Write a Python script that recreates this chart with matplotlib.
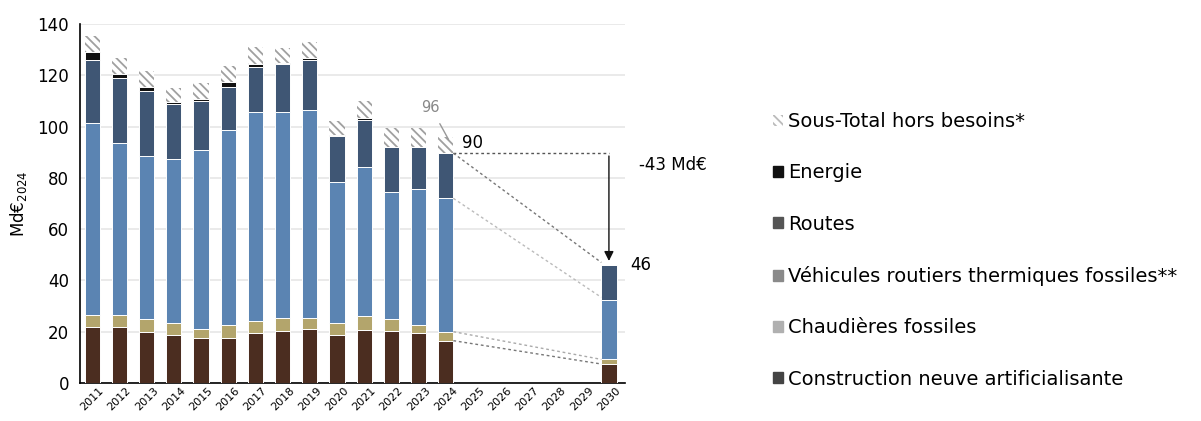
import numpy as np
import matplotlib
matplotlib.use("Agg")
import matplotlib.pyplot as plt
from matplotlib.patches import Patch

# Data (Md€ 2024)
years = [str(y) for y in range(2011, 2031)]
bar_years = ["2011", "2012", "2013", "2014", "2015", "2016", "2017", "2018", "2019",
             "2020", "2021", "2022", "2023", "2024", "2030"]
construction = [22.0, 22.0, 20.0, 18.7, 17.5, 17.5, 19.5, 20.3, 21.0, 18.7, 20.7, 20.3, 19.5, 16.5, 7.4]
chaudieres = [4.5, 4.5, 5.0, 4.5, 3.5, 5.0, 4.5, 5.0, 4.5, 4.5, 5.5, 4.5, 3.0, 3.5, 1.8]
vehicules = [75.0, 67.0, 63.5, 64.0, 70.0, 76.0, 81.7, 80.4, 81.0, 55.3, 58.2, 49.8, 53.1, 52.0, 23.2]
routes = [24.5, 25.4, 25.5, 21.5, 19.0, 16.8, 17.6, 18.7, 19.5, 17.8, 18.2, 17.4, 16.4, 17.5, 13.6]
energie = [3.0, 1.5, 1.4, 0.8, 0.8, 1.9, 1.1, 0.4, 0.7, 0.3, 0.6, 0.2, 0.2, 0.1, 0.0]
sous_total = [6.5, 6.2, 6.3, 5.4, 6.2, 6.6, 6.6, 5.9, 6.3, 5.4, 6.8, 7.3, 7.3, 6.4, 0.0]

labels = ["Construction neuve artificialisante", "Chaudières fossiles",
          "Véhicules routiers thermiques fossiles**", "Routes", "Energie",
          "Sous-Total hors besoins*"]

plt.rcParams['font.family'] = ['DejaVu Sans']
plt.rcParams['hatch.linewidth'] = 1.3

fig = plt.figure(figsize=(12.01, 4.21), dpi=100)
ax = fig.add_axes([0.0666, 0.0903, 0.454, 0.8527])

x = np.array([years.index(y) for y in bar_years])
w = 0.56
series = [construction, chaudieres, vehicules, routes, energie]
colors = ['#4b2d20', '#b3a56c', '#5b84b2', '#3f5674', '#111111']
bottom = np.zeros(len(x))
for vals, c in zip(series, colors):
    v = np.array(vals)
    ax.bar(x, v, w, bottom=bottom, color=c, edgecolor='white', linewidth=0.7, zorder=3)
    bottom += v
ax.bar(x, sous_total, w, bottom=bottom, facecolor='white', edgecolor='#a0a0a0',
       hatch='\\\\\\\\', linewidth=0, zorder=3)

ax.set_xlim(-0.45, 19.6)
ax.set_ylim(0, 140)
ax.set_yticks(range(0, 141, 20))
ax.set_xticks(range(len(years)))
ax.set_xticklabels(years, rotation=45, fontsize=8)
ax.tick_params(axis='y', labelsize=12, length=0, pad=8)
ax.tick_params(axis='x', length=0, pad=2)
ax.yaxis.grid(True, color='#e6e6e6', linewidth=1.2, zorder=0)
ax.spines['top'].set_visible(False)
ax.spines['right'].set_visible(False)
ax.spines['left'].set_linewidth(1.2)
ax.spines['bottom'].set_linewidth(1.2)
ax.set_ylabel('Md€$_{2024}$', fontsize=12, labelpad=6)

# annotations 2024 -> 2030
i24 = list(bar_years).index("2024")
x24 = x[i24]
x30 = x[-1]
top24 = sum(s[i24] for s in series)
top30 = sum(s[-1] for s in series)
veh24 = construction[i24] + chaudieres[i24] + vehicules[i24]
veh30 = construction[-1] + chaudieres[-1] + vehicules[-1]
ch24 = construction[i24] + chaudieres[i24]
ch30 = construction[-1] + chaudieres[-1]

ax.plot([x24 + w / 2, x30], [top24, top24], ls=(0, (2, 2)), color='#555555', lw=1, zorder=4)
ax.annotate('', xy=(x30, top30 + 0.5), xytext=(x30, top24),
            arrowprops=dict(arrowstyle='-|>', color='#111111', lw=1, mutation_scale=14), zorder=5)
ax.plot([x24 + w / 2, x30 - w / 2], [top24, top30 + 1], ls=(0, (2, 2)), color='#777777', lw=1, zorder=4)
ax.plot([x24 + w / 2, x30 - w / 2], [veh24, veh30 + 1], ls=(0, (2, 2)), color='#bbbbbb', lw=1, zorder=4)
ax.plot([x24 + w / 2, x30 - w / 2], [ch24, ch30], ls=(0, (2, 2)), color='#aaaaaa', lw=1, zorder=4)
ax.plot([x24 + w / 2, x30 - w / 2], [construction[i24], construction[-1]], ls=(0, (2, 2)),
        color='#777777', lw=1, zorder=4)

ax.text(x24 + 0.6, 93.5, '90', fontsize=12, va='center')
ax.annotate('96', xy=(x24 + 0.1, 95), xytext=(x24 - 0.55, 107.5), fontsize=10.5, color='#888888',
            ha='center', va='center', zorder=6,
            arrowprops=dict(arrowstyle='-', color='#999999', lw=1, shrinkA=5, shrinkB=0))
ax.text(x30 + 1.1, 85, '-43 Md€', fontsize=12, va='center', clip_on=False)
ax.text(x30 + 0.8, 46, '46', fontsize=12, va='center', clip_on=False)

# legend (grey markers as in the source)
handles = [Patch(facecolor='white', hatch='\\\\\\\\', edgecolor='#bbbbbb', lw=0),
           Patch(color='#111111'), Patch(color='#555555'), Patch(color='#8a8a8a'),
           Patch(color='#b0b0b0'), Patch(color='#444444')]
leg_labels = list(reversed(labels))
fig.legend(handles, leg_labels, loc='upper left', bbox_to_anchor=(0.637, 0.752),
           frameon=False, fontsize=14, labelspacing=1.66, handlelength=0.5,
           handleheight=0.5, handletextpad=0.3, borderaxespad=0)

fig.savefig('out.png', dpi=100)
